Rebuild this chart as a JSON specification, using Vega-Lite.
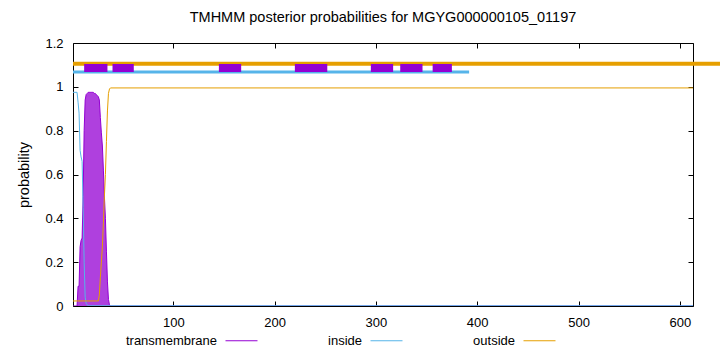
{
  "$schema": "https://vega.github.io/schema/vega-lite/v6.json",
  "width": 620,
  "height": 263,
  "autosize": "none",
  "padding": {"left": 73, "top": 43, "right": 27, "bottom": 46},
  "background": "white",
  "title": {"text": "TMHMM posterior probabilities for MGYG000000105_01197", "font": "Liberation Sans", "fontSize": 14.5, "fontWeight": "normal", "color": "black", "offset": 12, "anchor": "middle"},
  "config": {
    "view": {"stroke": "black", "strokeWidth": 1},
    "axis": {"labelFont": "Liberation Sans", "labelFontSize": 13, "labelColor": "black", "titleFont": "Liberation Sans", "titleFontSize": 14.5, "titleFontWeight": "normal", "titleColor": "black", "domain": false, "grid": false, "tickColor": "black", "tickSize": -5, "labelPadding": 15},
    "legend": {"labelFont": "Liberation Sans", "labelFontSize": 13, "labelColor": "black"}
  },
  "datasets": {
    "curves": [
      {"pos": 1, "series": "transmembrane", "prob": 0}, {"pos": 2, "series": "transmembrane", "prob": 0}, {"pos": 3, "series": "transmembrane", "prob": 0}, {"pos": 4, "series": "transmembrane", "prob": 0}, {"pos": 5, "series": "transmembrane", "prob": 0}, {"pos": 6, "series": "transmembrane", "prob": 0.09}, {"pos": 7, "series": "transmembrane", "prob": 0.09}, {"pos": 8, "series": "transmembrane", "prob": 0.27}, {"pos": 9, "series": "transmembrane", "prob": 0.3}, {"pos": 10, "series": "transmembrane", "prob": 0.31}, {"pos": 11, "series": "transmembrane", "prob": 0.5}, {"pos": 12, "series": "transmembrane", "prob": 0.8}, {"pos": 13, "series": "transmembrane", "prob": 0.94}, {"pos": 14, "series": "transmembrane", "prob": 0.965}, {"pos": 15, "series": "transmembrane", "prob": 0.97}, {"pos": 16, "series": "transmembrane", "prob": 0.975}, {"pos": 17, "series": "transmembrane", "prob": 0.975}, {"pos": 18, "series": "transmembrane", "prob": 0.975}, {"pos": 19, "series": "transmembrane", "prob": 0.975}, {"pos": 20, "series": "transmembrane", "prob": 0.975}, {"pos": 21, "series": "transmembrane", "prob": 0.975}, {"pos": 22, "series": "transmembrane", "prob": 0.97}, {"pos": 23, "series": "transmembrane", "prob": 0.97}, {"pos": 24, "series": "transmembrane", "prob": 0.965}, {"pos": 25, "series": "transmembrane", "prob": 0.96}, {"pos": 26, "series": "transmembrane", "prob": 0.955}, {"pos": 27, "series": "transmembrane", "prob": 0.94}, {"pos": 28, "series": "transmembrane", "prob": 0.86}, {"pos": 29, "series": "transmembrane", "prob": 0.79}, {"pos": 30, "series": "transmembrane", "prob": 0.73}, {"pos": 31, "series": "transmembrane", "prob": 0.62}, {"pos": 32, "series": "transmembrane", "prob": 0.5}, {"pos": 33, "series": "transmembrane", "prob": 0.4}, {"pos": 34, "series": "transmembrane", "prob": 0.25}, {"pos": 35, "series": "transmembrane", "prob": 0.11}, {"pos": 36, "series": "transmembrane", "prob": 0.03}, {"pos": 37, "series": "transmembrane", "prob": 0.005}, {"pos": 38, "series": "transmembrane", "prob": 0}, {"pos": 613, "series": "transmembrane", "prob": 0},
      {"pos": 1, "series": "inside", "prob": 0.975}, {"pos": 2, "series": "inside", "prob": 0.975}, {"pos": 3, "series": "inside", "prob": 0.975}, {"pos": 4, "series": "inside", "prob": 0.975}, {"pos": 5, "series": "inside", "prob": 0.975}, {"pos": 6, "series": "inside", "prob": 0.93}, {"pos": 7, "series": "inside", "prob": 0.88}, {"pos": 8, "series": "inside", "prob": 0.71}, {"pos": 9, "series": "inside", "prob": 0.68}, {"pos": 10, "series": "inside", "prob": 0.66}, {"pos": 11, "series": "inside", "prob": 0.45}, {"pos": 12, "series": "inside", "prob": 0.2}, {"pos": 13, "series": "inside", "prob": 0.04}, {"pos": 14, "series": "inside", "prob": 0.012}, {"pos": 15, "series": "inside", "prob": 0.005}, {"pos": 16, "series": "inside", "prob": 0.002}, {"pos": 17, "series": "inside", "prob": 0.001}, {"pos": 613, "series": "inside", "prob": 0.001},
      {"pos": 1, "series": "outside", "prob": 0.023}, {"pos": 26, "series": "outside", "prob": 0.023}, {"pos": 27, "series": "outside", "prob": 0.05}, {"pos": 28, "series": "outside", "prob": 0.13}, {"pos": 29, "series": "outside", "prob": 0.2}, {"pos": 30, "series": "outside", "prob": 0.27}, {"pos": 31, "series": "outside", "prob": 0.38}, {"pos": 32, "series": "outside", "prob": 0.5}, {"pos": 33, "series": "outside", "prob": 0.6}, {"pos": 34, "series": "outside", "prob": 0.75}, {"pos": 35, "series": "outside", "prob": 0.89}, {"pos": 36, "series": "outside", "prob": 0.97}, {"pos": 37, "series": "outside", "prob": 0.99}, {"pos": 38, "series": "outside", "prob": 0.995}, {"pos": 613, "series": "outside", "prob": 0.995}
    ],
    "tracks": [
      {"track": "outside", "start": 1, "end": 640},
      {"track": "inside", "start": 1, "end": 392},
      {"track": "transmembrane", "start": 12, "end": 35},
      {"track": "transmembrane", "start": 40, "end": 61},
      {"track": "transmembrane", "start": 145, "end": 167},
      {"track": "transmembrane", "start": 220, "end": 252},
      {"track": "transmembrane", "start": 295, "end": 317},
      {"track": "transmembrane", "start": 324, "end": 346},
      {"track": "transmembrane", "start": 356, "end": 375}
    ]
  },
  "resolve": {"axis": {"x": "independent", "y": "independent"}},
  "layer": [
    {
      "data": {"name": "curves"},
      "transform": [{"filter": "datum.series === 'transmembrane'"}],
      "mark": {"type": "area", "color": "#af40de", "clip": true},
      "encoding": {
        "x": {"field": "pos", "type": "quantitative", "scale": {"domain": [1, 613], "nice": false, "zero": false}, "axis": {"values": [100, 200, 300, 400, 500, 600], "title": null}},
        "y": {"field": "prob", "type": "quantitative", "scale": {"domain": [0, 1.2], "nice": false}, "axis": {"values": [0, 0.2, 0.4, 0.6, 0.8, 1, 1.2], "format": ".1~f", "title": "probability", "titlePadding": 13}}
      }
    },
    {
      "data": {"name": "curves"},
      "mark": {"type": "line", "strokeWidth": 1, "clip": true},
      "encoding": {
        "x": {"field": "pos", "type": "quantitative", "axis": null},
        "y": {"field": "prob", "type": "quantitative", "axis": null},
        "color": {"field": "series", "type": "nominal", "sort": ["transmembrane", "inside", "outside"],
          "scale": {"domain": ["transmembrane", "inside", "outside"], "range": ["#9400d3", "#56b4e9", "#e69f00"]},
          "legend": {"title": null, "orient": "none", "legendX": 152, "legendY": 281, "direction": "horizontal", "columns": 3, "columnPadding": 68, "symbolType": "stroke", "symbolSize": 1024, "symbolStrokeWidth": 1, "labelAlign": "right", "labelOffset": -41, "padding": 0}}
      }
    },
    {
      "data": {"name": "tracks"},
      "transform": [{"filter": "datum.track === 'outside'"}],
      "mark": {"type": "rule", "color": "#e69f00", "strokeWidth": 4, "clip": false},
      "encoding": {
        "x": {"field": "start", "type": "quantitative", "axis": {"orient": "top", "values": [100, 200, 300, 400, 500, 600], "labels": false, "title": null}},
        "x2": {"field": "end"},
        "y": {"datum": 1.105, "type": "quantitative", "axis": {"orient": "right", "values": [0, 0.2, 0.4, 0.6, 0.8, 1, 1.2], "labels": false, "title": null}}
      }
    },
    {
      "data": {"name": "tracks"},
      "transform": [{"filter": "datum.track === 'inside'"}],
      "mark": {"type": "rule", "color": "#56b4e9", "strokeWidth": 3},
      "encoding": {
        "x": {"field": "start", "type": "quantitative", "axis": null},
        "x2": {"field": "end"},
        "y": {"datum": 1.068, "type": "quantitative", "axis": null}
      }
    },
    {
      "data": {"name": "tracks"},
      "transform": [{"filter": "datum.track === 'transmembrane'"}],
      "mark": {"type": "rule", "color": "#9400d3", "strokeWidth": 8},
      "encoding": {
        "x": {"field": "start", "type": "quantitative", "axis": null},
        "x2": {"field": "end"},
        "y": {"datum": 1.086, "type": "quantitative", "axis": null}
      }
    }
  ]
}
